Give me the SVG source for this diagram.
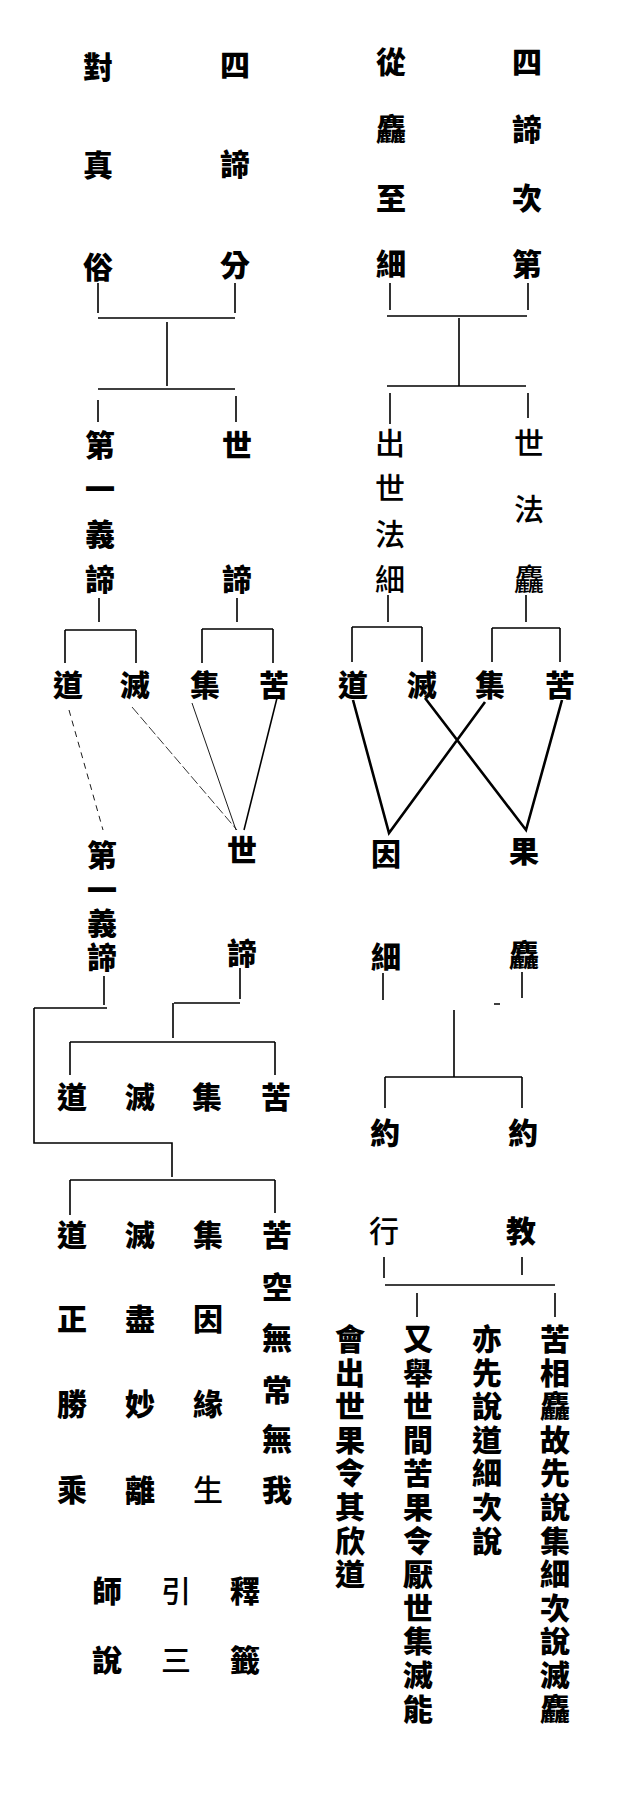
<svg xmlns="http://www.w3.org/2000/svg" width="620" height="1805" viewBox="0 0 620 1805">
<style>
text{font-family:"Noto Sans CJK TC","Noto Sans CJK SC",sans-serif;font-size:30px;fill:#000;text-anchor:middle;dominant-baseline:central}
.b{font-weight:900}
.r{font-weight:500}
.ln{fill:none;stroke:#000;stroke-width:1.6}
.tk{fill:none;stroke:#000;stroke-width:2.6}
.th{fill:none;stroke:#000;stroke-width:0.9}
.dt{fill:none;stroke:#000;stroke-width:0.9;stroke-dasharray:6 5}
.ds{fill:none;stroke:#000;stroke-width:0.8;stroke-dasharray:10 3}
</style>
<rect width="620" height="1805" fill="#fff"/>
<g id="connectors">
<path class="ln" d="M98 283V313M235 283V313M98 318H235M167 322V386M98 389H235M98 400V422M236 396V422"/>
<path class="ln" d="M390 283V310M528 283V310M387 316H527M459 318V386M387 386H526M390 393V424M528 393V418"/>
<path class="ln" d="M99 598V622M237 598V622M65 630H136M65 630V663M136 630V663M202 629H273M202 629V663M273 629V663"/>
<path class="ln" d="M388 595V622M526 595V622M352 627H422M352 627V662M422 627V662M492 628H560M492 628V662M560 628V662"/>
<path class="dt" d="M69 710L103 830"/>
<path class="ds" d="M132 707L237 830"/>
<path class="th" d="M192 703L236 830"/>
<path class="ln" d="M277 698L244 830"/>
<path class="tk" d="M353 700L389 833L485 702M425 698L526 830L562 700"/>
<path class="ln" d="M104 976V1005M240 968V999M34 1008H107M34 1008V1143H172V1177M174 1003H240M173 1003V1038M70 1042H275M70 1042V1075M275 1042V1075M70 1180H275M70 1180V1215M275 1180V1213"/>
<path class="ln" d="M383 973V1000M522 972V998M494 1004H500M454 1010V1077M385 1077H522M385 1077V1108M522 1077V1108"/>
<path class="ln" d="M384 1257V1278M522 1257V1275M385 1285H555M417 1293V1317M555 1293V1317"/>
</g>
<g id="n-duizhensu"><text class="b" x="98 98 98" y="65 163 265">對真俗</text></g>
<g id="n-sidifen"><text class="b" x="235 235 235" y="63 162 263">四諦分</text></g>
<g id="n-congcuzhixi"><text class="b" x="391 391 391 391" y="60 127 196 262">從麤至細</text></g>
<g id="n-sidicidi"><text class="b" x="527 527 527 527" y="60 127 196 262">四諦次第</text></g>
<g id="n-diyiyidi1"><text class="b" x="100 100 100 100" y="443 487 532 577">第一義諦</text></g>
<g id="n-shidi1"><text class="b" x="237 237" y="443 577">世諦</text></g>
<g id="n-chushifaxi"><text class="r" x="390 390 390 390" y="441 486 532 577">出世法細</text></g>
<g id="n-shifacu"><text class="r" x="529 529 529" y="441 507 577">世法麤</text></g>
<g id="n-row1l"><text class="b" x="68 135 205 274" y="683">道滅集苦</text></g>
<g id="n-row1r"><text class="b" x="353 422 490 560" y="683">道滅集苦</text></g>
<g id="n-diyiyidi2"><text class="b" x="102 102 102 102" y="853 888 921 955">第一義諦</text></g>
<g id="n-shidi2"><text class="b" x="242 242" y="848 951">世諦</text></g>
<g id="n-yinxi"><text class="b" x="386 386" y="852 955">因細</text></g>
<g id="n-guocu"><text class="b" x="524 524" y="849 953">果麤</text></g>
<g id="n-row2"><text class="b" x="72 140 207 276" y="1095">道滅集苦</text></g>
<g id="n-yue1"><text class="b" x="385" y="1131">約</text></g>
<g id="n-yue2"><text class="b" x="523" y="1131">約</text></g>
<g id="n-xing"><text class="r" x="384" y="1229">行</text></g>
<g id="n-jiao"><text class="b" x="521" y="1229">教</text></g>
<g id="n-dao"><text class="b" x="72 72 72 72" y="1233 1317 1402 1488">道正勝乘</text></g>
<g id="n-mie"><text class="b" x="140 140 140 140" y="1233 1317 1402 1488">滅盡妙離</text></g>
<g id="n-ji"><text class="b" x="208 208 208" y="1233 1317 1402">集因緣</text><text class="r" x="208" y="1488">生</text></g>
<g id="n-ku"><text class="b" x="277 277 277 277 277 277" y="1233 1285 1336 1388 1437 1488">苦空無常無我</text></g>
<g id="n-shiqian"><text class="b" x="107 107" y="1589 1658">師說</text><text class="r" x="176 176" y="1589 1658">引三</text><text class="b" x="245 245" y="1589 1658">釋籤</text></g>
<g id="n-col4"><text class="b" x="555 555 555 555 555 555 555 555 555 555 555 555" y="1337 1370.6 1404.2 1437.8 1471.4 1505 1538.6 1572.2 1605.8 1639.4 1673 1706.6">苦相麤故先說集細次說滅麤</text></g>
<g id="n-col3"><text class="b" x="487 487 487 487 487 487 487" y="1337 1370.6 1404.2 1437.8 1471.4 1505 1538.6">亦先說道細次說</text></g>
<g id="n-col2"><text class="b" x="418 418 418 418 418 418 418 418 418 418 418 418" y="1337 1370.6 1404.2 1437.8 1471.4 1505 1538.6 1572.2 1605.8 1639.4 1673 1706.6">又舉世間苦果令厭世集滅能</text></g>
<g id="n-col1"><text class="b" x="350 350 350 350 350 350 350 350" y="1337 1370.6 1404.2 1437.8 1471.4 1505 1538.6 1572.2">會出世果令其欣道</text></g>
</svg>
